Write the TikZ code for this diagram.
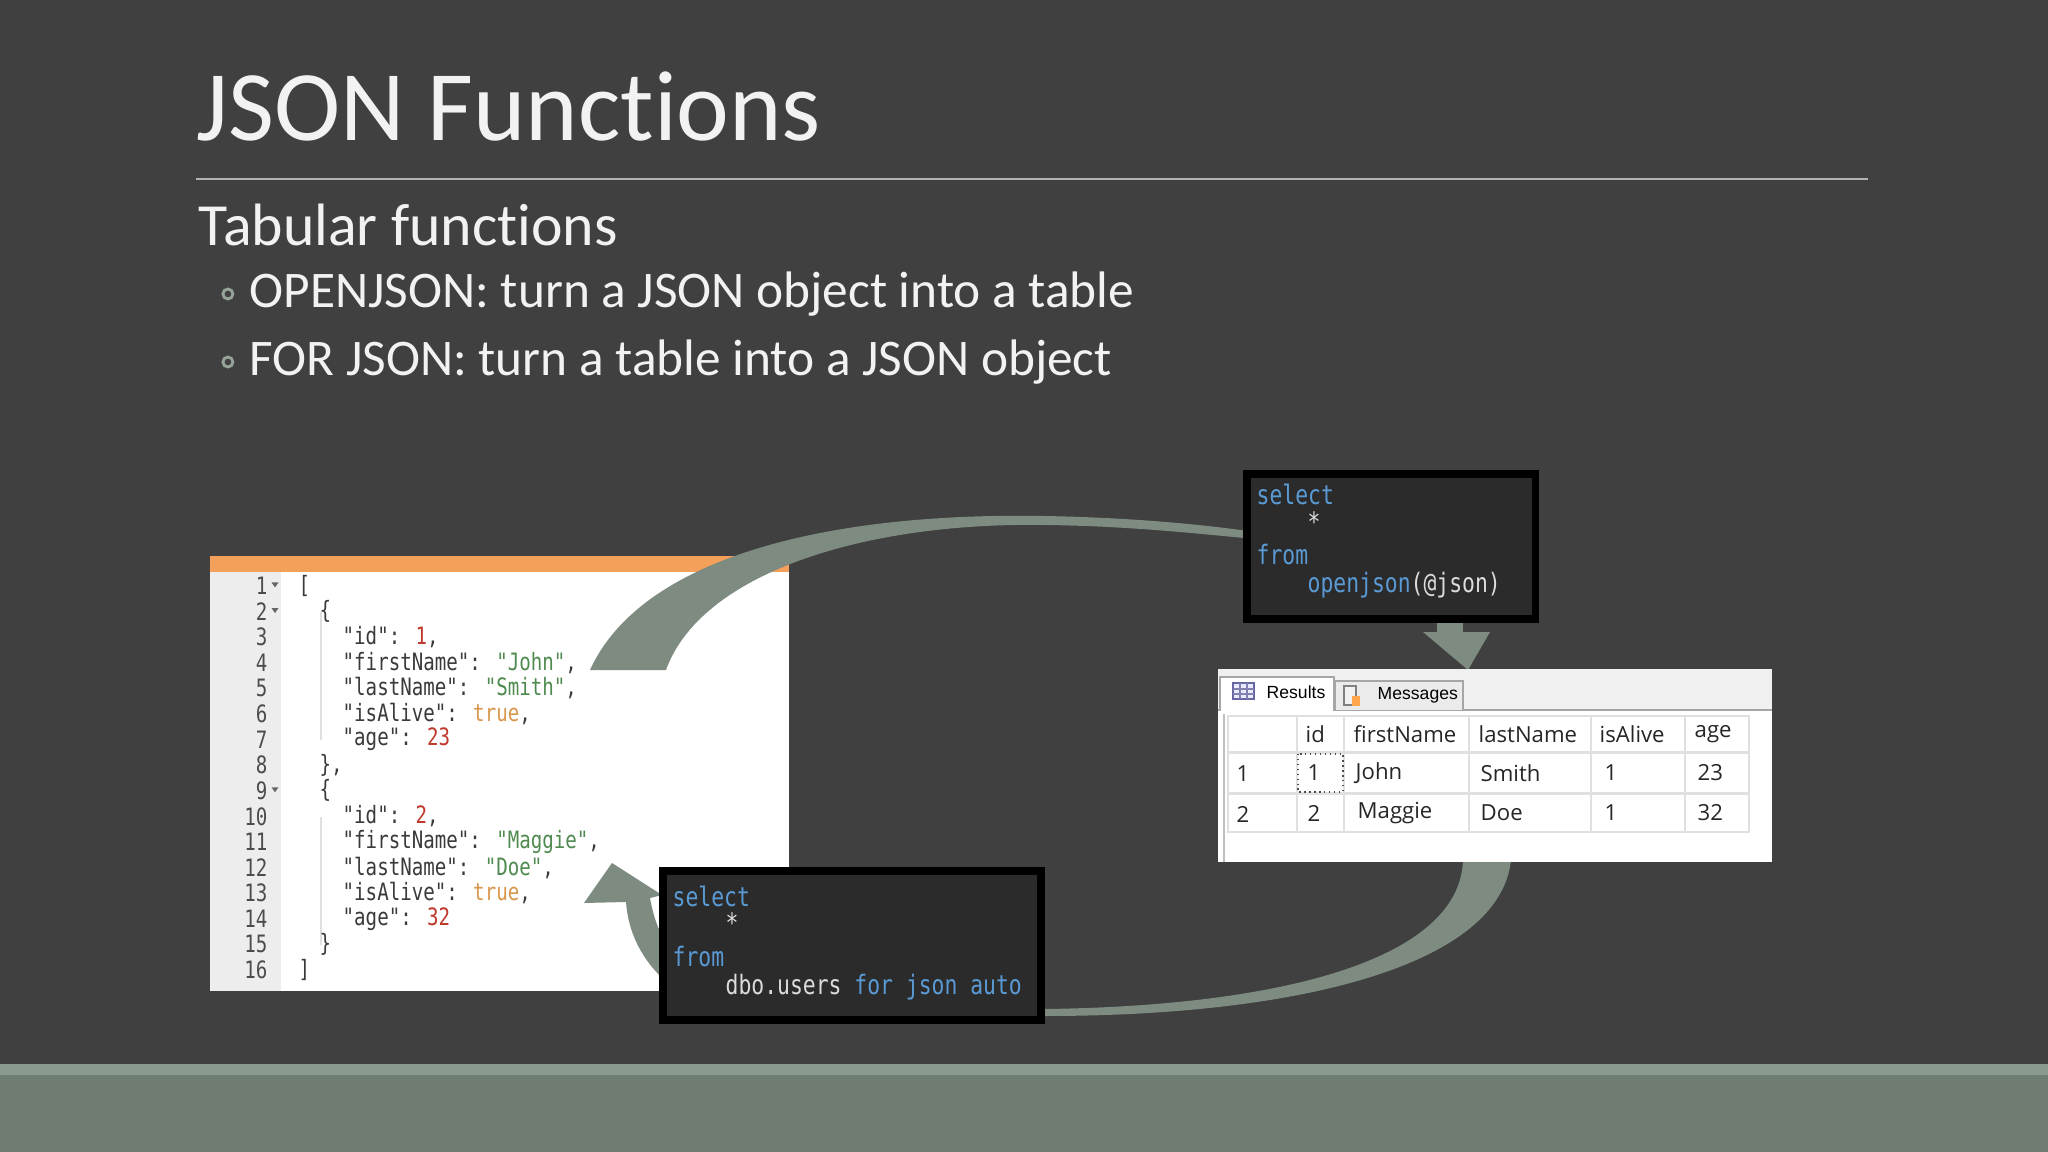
\documentclass[tikz,border=0pt]{standalone}
\usepackage{fontspec}
\setmainfont[Ligatures=NoCommon]{Carlito}
\newfontfamily\codefont[FakeStretch=0.8]{DejaVu Sans Mono}
\newfontfamily\gridfont{Open Sans}
\newfontfamily\tabfont{Liberation Sans}
\usetikzlibrary{positioning,calc}

\definecolor{slidebg}{HTML}{404040}
\definecolor{bandtop}{HTML}{8A9A8E}
\definecolor{band}{HTML}{6E7C72}
\definecolor{arrowfill}{HTML}{7D8B81}
\definecolor{editbar}{HTML}{F5A05A}
\definecolor{jkey}{HTML}{3A3A3A}
\definecolor{jstr}{HTML}{4F8A4F}
\definecolor{jnum}{HTML}{C0392B}
\definecolor{jbool}{HTML}{D9964A}
\definecolor{sqlkw}{HTML}{5A9BD5}
\definecolor{sqltxt}{HTML}{DCDCDC}
\newcommand\js[1]{\textcolor{jstr}{#1}}
\newcommand\jn[1]{\textcolor{jnum}{#1}}
\newcommand\jb[1]{\textcolor{jbool}{#1}}
\newcommand\kw[1]{\textcolor{sqlkw}{#1}}

\begin{document}
\begin{tikzpicture}[
        x=0.01cm, y=-0.01cm,
        slidetext/.style={anchor=west, inner sep=0pt, text=white!95!black},
        lnum/.style={anchor=east, inner sep=0pt, font=\codefont\fontsize{6.8}{8}\selectfont, text=black!70},
        codeline/.style={anchor=west, inner sep=0pt, font=\codefont\fontsize{6.8}{8}\selectfont, text=jkey},
        sqlline/.style={anchor=west, inner sep=0pt, font=\codefont\fontsize{7.6}{9}\selectfont, text=sqltxt},
        sqlbox/.style={draw=black, line width=2pt, fill=black!83},
        cell/.style={draw=black!12, fill=white},
        celltext/.style={anchor=west, inner sep=0pt, font=\gridfont\fontsize{6.3}{8}\selectfont, text=black!85},
        bigarrow/.style={fill=arrowfill, draw=none},
    ]
    % slide
    \fill[slidebg] (0,0) rectangle (2048,1152);
    \useasboundingbox (0,0) rectangle (2048,1152);
    \fill[band] (0,1064) rectangle (2048,1152);
    \fill[bandtop] (0,1064) rectangle (2048,1075);
    \node[slidetext, anchor=base west] (title) at (196,141) {\fontsize{28.4}{32}\selectfont JSON Functions};
    \draw[black!30, line width=0.6pt] (196,179) -- (1868,179);
    \node[slidetext] (sub) at (198,225) {\fontsize{17}{20}\selectfont Tabular functions};
    \node[slidetext] (b1) at (249,294) {\fontsize{14.6}{18}\selectfont OPENJSON: turn a JSON object into a table};
    \node[slidetext] (b2) at (249,362) {\fontsize{14.6}{18}\selectfont FOR JSON: turn a table into a JSON object};
    \foreach \b in {b1,b2}
        \draw[bandtop!90!white, line width=0.8pt] ([xshift=-6pt]\b.west) circle (5);

    % json editor
    \fill[white] (210,556) rectangle (789,991);
    \fill[black!7] (210,572) rectangle (281,991);
    \fill[editbar] (210,556) rectangle (789,572);
    \foreach \i in {1,...,16}
        \node[lnum] (n\i) at (268,{586+25.6*(\i-1)}) {\i};
    \foreach \i in {1,2,9}
        \fill[black!60] ([xshift=1pt,yshift=1pt]n\i.east) -- ++(7,0) -- ++(-3.5,5) -- cycle;
    \draw[black!12] (321,612) -- (321,740) (321,817) -- (321,945);
    \node[codeline] (c1) at (298,586) {[};
    \node[codeline] (c2) at (319,611.6) {\{};
    \node[codeline] (c3) at (342,637.2) {"id": \jn{1},};
    \node[codeline] (c4) at (342,662.8) {"firstName": \js{"John"},};
    \node[codeline] (c5) at (342,688.4) {"lastName": \js{"Smith"},};
    \node[codeline] (c6) at (342,714) {"isAlive": \jb{true},};
    \node[codeline] (c7) at (342,739.6) {"age": \jn{23}};
    \node[codeline] (c8) at (319,765.2) {\},};
    \node[codeline] (c9) at (319,790.8) {\{};
    \node[codeline] (c10) at (342,816.4) {"id": \jn{2},};
    \node[codeline] (c11) at (342,842) {"firstName": \js{"Maggie"},};
    \node[codeline] (c12) at (342,867.6) {"lastName": \js{"Doe"},};
    \node[codeline] (c13) at (342,893.2) {"isAlive": \jb{true},};
    \node[codeline] (c14) at (342,918.8) {"age": \jn{32}};
    \node[codeline] (c15) at (319,944.4) {\}};
    \node[codeline] (c16) at (298,970) {]};

    % curved arrows
    \fill[bigarrow] (590,670) .. controls (640,560) and (820,512) .. (1045,516)
        .. controls (1150,518) and (1220,527) .. (1255,532) -- (1255,539)
        .. controls (1200,534) and (1130,526) .. (1045,525)
        .. controls (860,522) and (700,575) .. (666,670) -- cycle;
    \fill[bigarrow] (1437,615) rectangle (1463,633);
    \fill[bigarrow] (1423,632) -- (1490,632) -- (1468,670) -- cycle;
    \fill[bigarrow] (1511,860) .. controls (1500,965) and (1300,1016) .. (1045,1016)
        -- (1045,1009) .. controls (1280,1006) and (1460,960) .. (1463,860) -- cycle;
    \fill[bigarrow] (612,863) -- (662,895) -- (650,898)
        .. controls (654,920) and (660,935) .. (670,948) -- (670,985)
        .. controls (640,960) and (628,930) .. (626,902) -- (584,903) -- cycle;

    % sql boxes
    \draw[sqlbox] (1247,474) rectangle (1535,619);
    \node[sqlline] (s1) at (1256,494) {\kw{select}};
    \node[sqlline] (s2) at (1307,522) {*};
    \node[sqlline] (s3) at (1256,555) {\kw{from}};
    \node[sqlline] (s4) at (1307,585) {\kw{openjson}(@json)};
    \draw[sqlbox] (663,871) rectangle (1041,1020);
    \node[sqlline] (f1) at (672,896) {\kw{select}};
    \node[sqlline] (f2) at (725,923) {*};
    \node[sqlline] (f3) at (672,957) {\kw{from}};
    \node[sqlline] (f4) at (725,987) {dbo.users \kw{for json auto}};

    % results grid
    \fill[white] (1218,669) rectangle (1772,862);
    \fill[black!6] (1218,669) rectangle (1772,710);
    \draw[black!35] (1218,710) -- (1772,710);
    \draw[black!35, fill=white] (1220,710) -- (1220,677) -- (1334,677) -- (1334,710);
    \draw[black!35, fill=black!8] (1335,710) -- (1335,681) -- (1463,681) -- (1463,710);
    \fill[white] (1221,709) rectangle (1333,712);
    \draw[black!25] (1224,714) -- (1224,862);
    \draw[blue!40!black!60, fill=blue!8] (1233,683) rectangle (1254,699);
    \draw[blue!40!black!50] (1233,689) -- (1254,689) (1233,694) -- (1254,694) (1240,683) -- (1240,699) (1247,683) -- (1247,699);
    \node[anchor=west, inner sep=0pt, font=\tabfont\fontsize{5}{6}\selectfont] (tres) at (1266,692) {Results};
    \draw[black!50, fill=black!5] (1344,686) rectangle (1356,705);
    \fill[orange!70] (1352,696) rectangle (1360,706);
    \node[anchor=west, inner sep=0pt, font=\tabfont\fontsize{5}{6}\selectfont] (tmsg) at (1377,695) {Messages};
    \foreach \xa/\xb [count=\c] in {1228/1297,1297/1344,1344/1469,1469/1591,1591/1685,1685/1749} {
        \draw[cell] (\xa,716) rectangle (\xb,752);
        \draw[cell] (\xa,753) rectangle (\xb,793);
        \draw[cell] (\xa,794) rectangle (\xb,832);
    }
    \draw[black!70, densely dotted] (1298,754) rectangle (1343,792);
    \node[celltext] (hid) at (1305,734) {id};
    \node[celltext] (hfn) at (1353,734) {firstName};
    \node[celltext] (hln) at (1478,734) {lastName};
    \node[celltext] (hal) at (1599,734) {isAlive};
    \node[celltext] (hag) at (1694,734) {age};
    \node[celltext] (r1) at (1236,774) {1};
    \node[celltext] (r1id) at (1307,773) {1};
    \node[celltext] (r1fn) at (1355,773) {John};
    \node[celltext] (r1ln) at (1480,773) {Smith};
    \node[celltext] (r1al) at (1604,773) {1};
    \node[celltext] (r1ag) at (1697,773) {23};
    \node[celltext] (r2) at (1236,814) {2};
    \node[celltext] (r2id) at (1307,813) {2};
    \node[celltext] (r2fn) at (1357,813) {Maggie};
    \node[celltext] (r2ln) at (1480,813) {Doe};
    \node[celltext] (r2al) at (1604,813) {1};
    \node[celltext] (r2ag) at (1697,813) {32};
\end{tikzpicture}
\end{document}
